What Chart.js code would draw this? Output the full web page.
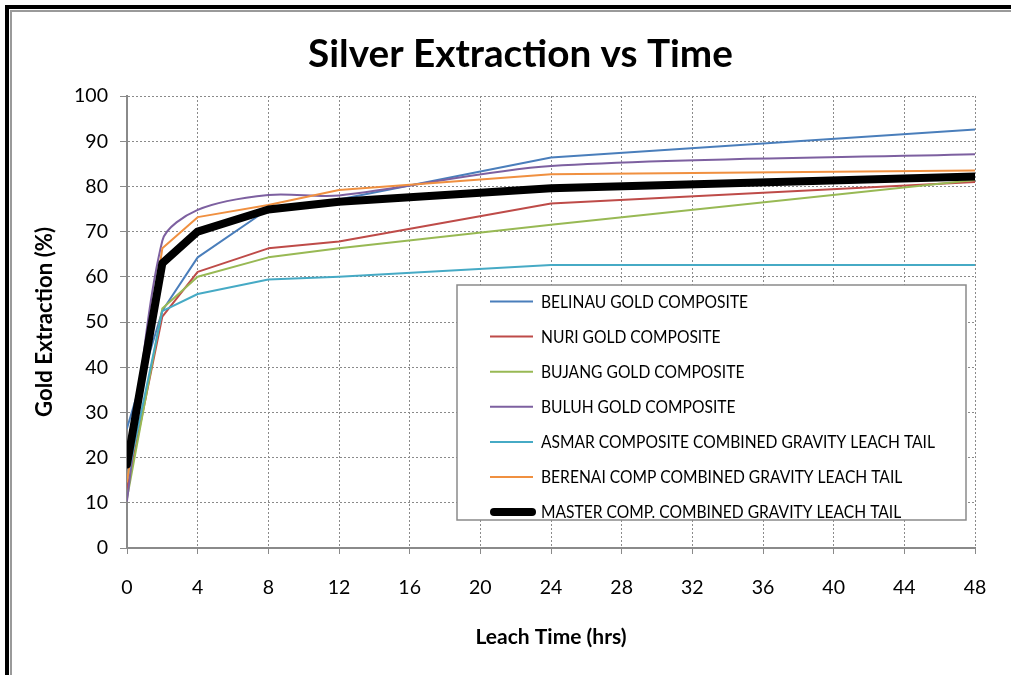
<!DOCTYPE html>
<html>
<head>
<meta charset="utf-8">
<script src="https://cdn.jsdelivr.net/npm/chart.js@4.4.1/dist/chart.umd.min.js"></script>
<style>
  html, body { margin: 0; padding: 0; background: #fff; overflow: hidden; }
  #wrap { position: relative; width: 1011px; height: 675px; }
  #c { position: absolute; left: 0; top: 0; }
  .f1 { position: absolute; left: 5px; top: 5px; width: 2000px; height: 2000px;
        border-left: 4px solid #000; border-top: 4px solid #000; pointer-events: none; }
  .f2 { position: absolute; left: 10px; top: 10px; width: 2000px; height: 2000px;
        border-left: 2px solid #9a9a9a; border-top: 2px solid #9a9a9a; pointer-events: none; }
</style>
</head>
<body>
<div id="wrap">
  <canvas id="c" width="1011" height="675"></canvas>
  <div class="f1"></div>
  <div class="f2"></div>
</div>
<script>
// ---- data ----
const times   = [0, 2, 4, 8, 12, 24, 48];
const belinau = [26.5, 52.5, 64.3, 75.0, 77.1, 86.4, 92.6];
const nuri    = [13.0, 51.2, 61.1, 66.3, 67.8, 76.2, 81.0];
const bujang  = [11.0, 53.0, 60.0, 64.3, 66.3, 71.5, 81.4];
const buluh   = [10.5, 68.0, 74.8, 78.1, 78.0, 84.5, 87.1];
const asmar   = [15.0, 52.4, 56.2, 59.4, 60.0, 62.6, 62.6];
const berenai = [14.7, 66.3, 73.2, 75.9, 79.2, 82.7, 83.5];
const master  = [18.5, 63.0, 70.0, 74.9, 76.6, 79.6, 82.2];
const seriesNames = [
  "BELINAU GOLD COMPOSITE",
  "NURI GOLD COMPOSITE",
  "BUJANG GOLD COMPOSITE",
  "BULUH GOLD COMPOSITE",
  "ASMAR COMPOSITE COMBINED GRAVITY LEACH TAIL",
  "BERENAI COMP COMBINED GRAVITY LEACH TAIL",
  "MASTER COMP. COMBINED GRAVITY LEACH TAIL"
];
const titleText = "Silver Extraction vs Time";
const xTitle = "Leach Time (hrs)";
const yTitle = "Gold Extraction (%)";

// ---- styling ----
const FAMILY = "Lato, 'Open Sans', sans-serif";
const mctx = document.createElement('canvas').getContext('2d');
function fit(text, weight, target) {
  mctx.font = weight + " 100px " + FAMILY;
  return 100 * target / mctx.measureText(text).width;
}
const tickSize = fit("100", "normal", 34);
const titleSize = fit(titleText, "bold", 425);
const xTitleSize = fit(xTitle, "bold", 151);
const yTitleSize = fit(yTitle, "bold", 190);
const legendSize = 16.5;
const legendScaleX = fit(seriesNames[4], "normal", 394) / legendSize;

const colors = ['#4A7EBB', '#BE4B48', '#98B954', '#7D60A0', '#46AAC5', '#F09040', '#000000'];
const widths = [2, 2, 2, 2, 2, 2, 8];
const tensions = [0, 0, 0, 0.3, 0, 0, 0];
const values = [belinau, nuri, bujang, buluh, asmar, berenai, master];

const datasets = values.map((vals, i) => ({
  label: seriesNames[i],
  data: times.map((t, k) => ({x: t, y: vals[k]})),
  borderColor: colors[i],
  backgroundColor: colors[i],
  borderWidth: widths[i],
  pointRadius: 0,
  tension: tensions[i],
  borderCapStyle: 'round',
  borderJoinStyle: 'round',
  fill: false,
  order: 6 - i
}));

const GRID = '#8a8a8a';

const titlePlugin = {
  id: 'titleP',
  afterDraw(chart) {
    const ctx = chart.ctx;
    ctx.save();
    ctx.font = "bold " + titleSize + "px " + FAMILY;
    ctx.fillStyle = '#000';
    ctx.textAlign = 'center';
    ctx.textBaseline = 'alphabetic';
    ctx.fillText(titleText, 520.5, 67);
    ctx.restore();
  }
};

const legendPlugin = {
  id: 'boxLegend',
  afterDatasetsDraw(chart) {
    const ctx = chart.ctx;
    const bx = 457, by = 285, bw = 509, bh = 235;
    ctx.save();
    ctx.fillStyle = '#fff';
    ctx.fillRect(bx, by, bw, bh);
    ctx.strokeStyle = '#8a8a8a';
    ctx.lineWidth = 1.5;
    ctx.strokeRect(bx, by, bw, bh);
    chart.data.datasets.forEach((ds, i) => {
      const y = 301.5 + i * 35.1;
      ctx.strokeStyle = ds.borderColor;
      ctx.lineWidth = ds.borderWidth;
      ctx.lineCap = ds.borderWidth > 4 ? 'round' : 'butt';
      ctx.beginPath();
      ctx.moveTo(ds.borderWidth > 4 ? 494 : 490, y);
      ctx.lineTo(ds.borderWidth > 4 ? 532 : 533, y);
      ctx.stroke();
      ctx.save();
      ctx.translate(541, y + 1);
      ctx.scale(legendScaleX, 1);
      ctx.font = legendSize + "px " + FAMILY;
      ctx.textAlign = 'left';
      ctx.textBaseline = 'middle';
      ctx.fillStyle = '#000';
      ctx.fillText(ds.label, 0, 0);
      ctx.restore();
    });
    ctx.restore();
  }
};

const lh = 1.2;
new Chart(document.getElementById('c'), {
  type: 'line',
  data: { datasets },
  plugins: [titlePlugin, legendPlugin],
  options: {
    responsive: false,
    animation: false,
    events: [],
    layout: { padding: { top: 96, right: 36, left: 0, bottom: 0 } },
    plugins: { legend: { display: false }, title: { display: false }, tooltip: { enabled: false } },
    scales: {
      x: {
        type: 'linear', min: 0, max: 48,
        afterFit(s) { s.height = 127; },
        ticks: {
          stepSize: 4, color: '#000',
          font: { family: FAMILY, size: tickSize, lineHeight: lh },
          padding: 34 - 6 - (tickSize * lh) / 2 + 6,
          maxRotation: 0, autoSkip: false
        },
        grid: { color: GRID, lineWidth: 1, tickLength: 6, tickColor: GRID, drawTicks: true },
        border: { display: true, color: GRID, width: 2, dash: [2, 2] },
        title: {
          display: true, text: xTitle, color: '#000',
          font: { family: FAMILY, size: xTitleSize, weight: 'bold', lineHeight: lh },
          padding: { top: 0, bottom: 38 - (xTitleSize * lh) / 2 }
        }
      },
      y: {
        type: 'linear', min: 0, max: 100,
        afterFit(s) { s.width = 127; },
        ticks: {
          stepSize: 10, color: '#000',
          font: { family: FAMILY, size: tickSize, lineHeight: lh },
          padding: 12
        },
        grid: { color: GRID, lineWidth: 1, tickLength: 7, tickColor: GRID, drawTicks: true },
        border: { display: true, color: GRID, width: 2, dash: [2, 2] },
        title: {
          display: true, text: yTitle, color: '#000',
          font: { family: FAMILY, size: yTitleSize, weight: 'bold', lineHeight: lh },
          padding: { top: 45 - (yTitleSize * lh) / 2, bottom: 0 }
        }
      }
    }
  }
});
</script>
</body>
</html>
